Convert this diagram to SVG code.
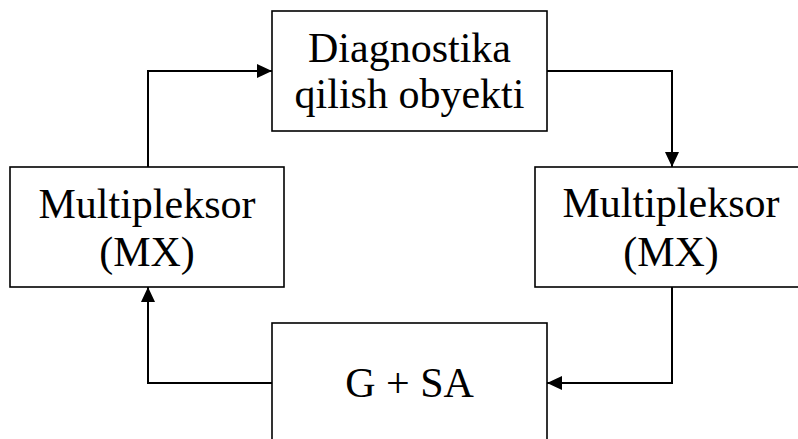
<svg xmlns="http://www.w3.org/2000/svg" width="798" height="439" viewBox="0 0 798 439">
<style>
.box{fill:#fff;stroke:#000;stroke-width:1.6}
.lbl{font-family:"Liberation Serif","Times New Roman",serif;font-size:42px;fill:#000;text-anchor:middle}
.wire{fill:none;stroke:#000;stroke-width:2}
</style>
<defs>
<marker id="ah" markerWidth="15" markerHeight="14" refX="15" refY="7" orient="auto" markerUnits="userSpaceOnUse">
<path d="M0,0 L15,7 L0,14 Z" fill="#000"/>
</marker>
</defs>
<rect width="798" height="439" fill="#fff"/>
<g id="connectors">
<path class="wire" d="M148,167 V71 H272" marker-end="url(#ah)"/>
<path class="wire" d="M547,71 H672 V167" marker-end="url(#ah)"/>
<path class="wire" d="M672,287 V383 H547" marker-end="url(#ah)"/>
<path class="wire" d="M272,383 H148 V287" marker-end="url(#ah)"/>
</g>
<g id="node-object">
<rect class="box" x="272" y="11" width="275" height="120"/>
<text class="lbl" x="409.5" y="62">Diagnostika</text>
<text class="lbl" x="409.5" y="108">qilish obyekti</text>
</g>
<g id="node-mx-left">
<rect class="box" x="10" y="167" width="274" height="120"/>
<text class="lbl" x="147" y="218">Multipleksor</text>
<text class="lbl" x="147" y="266">(MX)</text>
</g>
<g id="node-mx-right">
<rect class="box" x="535" y="167" width="274" height="120"/>
<text class="lbl" x="671" y="217">Multipleksor</text>
<text class="lbl" x="671" y="266">(MX)</text>
</g>
<g id="node-gsa">
<rect class="box" x="272" y="323" width="275" height="130"/>
<text class="lbl" x="409.5" y="397">G + SA</text>
</g>
</svg>
